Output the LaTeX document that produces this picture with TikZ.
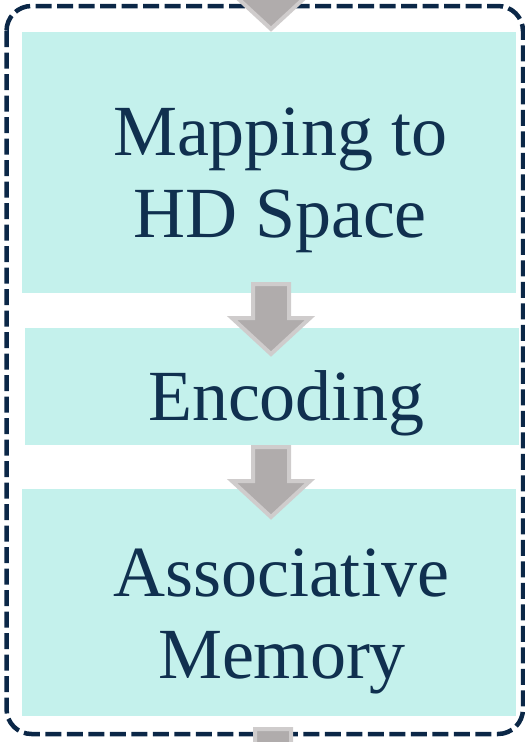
\documentclass[tikz,border=0pt]{standalone}
\usepackage{fontspec}
\setmainfont{Liberation Serif}
\definecolor{frameblue}{HTML}{0B2747}
\definecolor{textblue}{HTML}{10304F}
\definecolor{stagefill}{HTML}{C4F1EC}
\definecolor{arrowfill}{HTML}{B0ACAC}
\definecolor{arrowedge}{HTML}{CFCCCC}
\tikzset{
  stagebox/.style={draw=none, fill=stagefill, inner sep=0pt, anchor=north west},
  stagetext/.style={text=textblue, anchor=base, inner sep=0pt,
    font=\fontsize{72}{82}\selectfont},
  frame/.style={draw=frameblue, line width=4.5pt, rounded corners=25pt,
    dash pattern=on 16pt off 5.5pt},
  flowarrow/.pic={
    \draw[fill=arrowfill, draw=arrowedge, line width=4pt, line join=miter]
      (0,0) -- (-39,-36) -- (-18,-36) -- (-18,-70) -- (18,-70)
      -- (18,-36) -- (39,-36) -- cycle;
  }
}
\begin{document}
\begin{tikzpicture}[x=1pt, y=-1pt]
  \useasboundingbox (0,0) rectangle (525,742);
  \clip (0,0) rectangle (525,742);

  % dashed outline of the processing block
  \draw[frame] (6.5,6) rectangle (523,734);

  % stages
  \node[stagebox, minimum width=494pt, minimum height=261pt] (map) at (22,32) {};
  \node[stagebox, minimum width=494pt, minimum height=117pt] (enc) at (25,328) {};
  \node[stagebox, minimum width=494pt, minimum height=227pt] (mem) at (22,489) {};

  % block arrows between stages (tip positions)
  \coordinate (inA) at (271,29);
  \coordinate (mapenc) at (271,354);
  \coordinate (encmem) at (271,517);
  \coordinate (outA) at (273,799);
  \pic at (inA) {flowarrow};
  \pic at (mapenc) {flowarrow};
  \pic at (encmem) {flowarrow};
  \pic at (outA) {flowarrow};

  % stage labels
  \node[stagetext] (mapA) at (280,155) {Mapping to};
  \node[stagetext] (mapB) at (280,237) {HD Space};
  \node[stagetext] (encA) at (286,420) {Encoding};
  \node[stagetext] (memA) at (281,596) {Associative};
  \node[stagetext] (memB) at (282,678) {Memory};
\end{tikzpicture}
\end{document}
